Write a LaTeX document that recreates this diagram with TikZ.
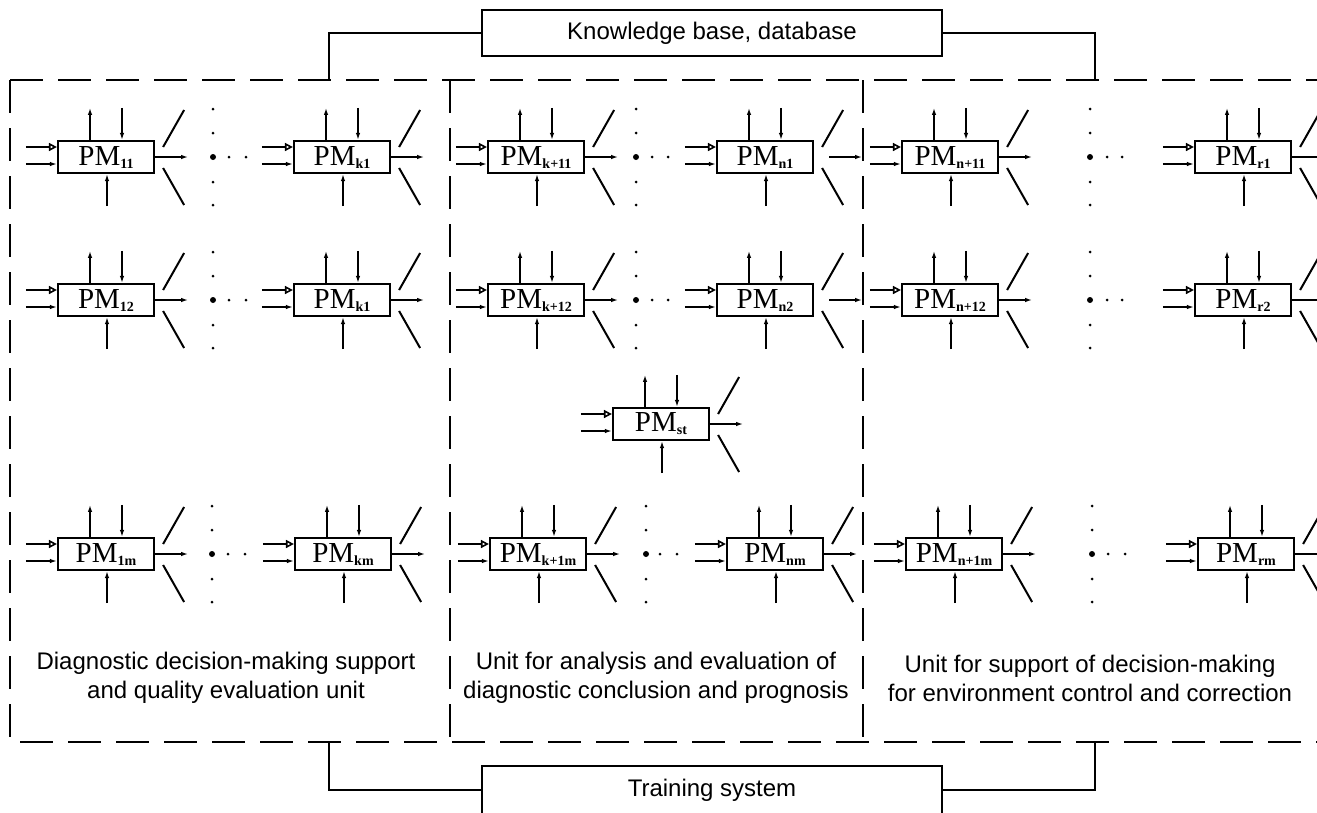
\documentclass[tikz,border=0pt]{standalone}
\usepackage{fontspec}
\setmainfont{Liberation Serif}
\newfontfamily\unitfont{Liberation Sans}
\usetikzlibrary{arrows.meta,calc,positioning}
\tikzset{
  pmbox/.style={draw, line width=2.2pt, fill=white, minimum width=96pt, minimum height=32pt, inner sep=0pt, font=\fontsize{29}{29}\selectfont},
  wire/.style={line width=2pt},
  inopen/.style={wire, -{Triangle[open, length=8pt, width=8pt, line width=1.6pt]}},
  tip/.style={wire, -{Latex[length=7pt, width=4.5pt]}},
  frame/.style={line width=2pt, dash pattern=on 33pt off 15pt},
  divider/.style={line width=1.6pt, dash pattern=on 33pt off 15pt},
  sysbox/.style={draw, line width=1.8pt, minimum width=460pt, inner sep=0pt, font=\unitfont\fontsize{24}{29}\selectfont},
  link/.style={line width=1.8pt},
  unitlabel/.style={align=center, font=\unitfont\fontsize{24}{29}\selectfont}
}
\newcommand{\pmsub}[1]{\raisebox{-3pt}{\fontsize{14}{14}\selectfont\bfseries #1}}
% name, x, y, index, gap before the output
\newcommand{\pmblock}[5]{%
  \node[pmbox] (#1) at (#2,#3) {PM\pmsub{#4}};
  \draw[inopen] ([shift={(-31,-10)}]#1.west) -- ([shift={(0,-10)}]#1.west);
  \draw[tip] ([shift={(-31,7)}]#1.west) -- ([shift={(0,7)}]#1.west);
  \draw[tip] ([shift={(-16,0)}]#1.north) -- ([shift={(-16,-32)}]#1.north);
  \draw[tip] ([shift={(16,-32)}]#1.north) -- ([shift={(16,0)}]#1.north);
  \draw[tip] ([shift={(1,32)}]#1.south) -- ([shift={(1,0)}]#1.south);
  \draw[tip] ([shift={(#5,0)}]#1.east) -- ([shift={(#5+33,0)}]#1.east);
  \draw[wire] ([shift={(8,-10)}]#1.east) -- ([shift={(29,-47)}]#1.east);
  \draw[wire] ([shift={(8,11)}]#1.east) -- ([shift={(29,48)}]#1.east);
}
% x, y, first and second dot to the right
\newcommand{\pmdots}[4]{%
  \foreach \dy in {-48,-24,25,48} \fill (#1,#2+\dy) circle (1.5pt);
  \fill (#1,#2) circle (3pt);
  \fill (#1+#3,#2) circle (1.5pt);
  \fill (#1+#4,#2) circle (1.5pt);
}

\begin{document}
\begin{tikzpicture}[x=1pt, y=-1pt]
  \useasboundingbox (0,0) rectangle (1317,812);
  \fill[white] (0,0) rectangle (1317,812);
  \clip (0,0) rectangle (1317,812);

  % dashed frame and unit borders
  \draw[frame] (10,80) -- (1317,80);
  \draw[frame] (10,80) -- (10,742) -- (1317,742);
  \draw[divider] (450,80) -- (450,742);
  \draw[divider] (863,80) -- (863,742);

  \node[sysbox, minimum height=46pt] (kb) at (712,33) {Knowledge base, database};
  \node[sysbox, minimum height=48pt] (ts) at (712,790) {Training system};
  \coordinate (kbL) at (329,80);
  \coordinate (kbR) at (1095,80);
  \coordinate (tsL) at (329,742);
  \coordinate (tsR) at (1095,742);
  \draw[link] (kb.west) -| (kbL);
  \draw[link] (kb.east) -| (kbR);
  \draw[link] (ts.west) -| (tsL);
  \draw[link] (ts.east) -| (tsR);

  % row 1
  \pmblock{pa1}{106}{157}{11}{0}
  \pmblock{pb1}{342}{157}{k1}{0}
  \pmblock{pc1}{536}{157}{k+11}{0}
  \pmblock{pd1}{765}{157}{n1}{15}
  \pmblock{pe1}{950}{157}{n+11}{0}
  \pmblock{pf1}{1243}{157}{r1}{0}
  \pmdots{213}{157}{16}{33}
  \pmdots{636}{157}{16}{32}
  \pmdots{1090}{157}{17}{32}

  % row 2
  \pmblock{pa2}{106}{300}{12}{0}
  \pmblock{pb2}{342}{300}{k1}{0}
  \pmblock{pc2}{536}{300}{k+12}{0}
  \pmblock{pd2}{765}{300}{n2}{15}
  \pmblock{pe2}{950}{300}{n+12}{0}
  \pmblock{pf2}{1243}{300}{r2}{0}
  \pmdots{213}{300}{16}{33}
  \pmdots{636}{300}{16}{32}
  \pmdots{1090}{300}{17}{32}

  \pmblock{pst}{661}{424}{st}{0}

  % row m
  \pmblock{pam}{106}{554}{1m}{0}
  \pmblock{pbm}{343}{554}{km}{0}
  \pmblock{pcm}{538}{554}{k+1m}{0}
  \pmblock{pdm}{775}{554}{nm}{0}
  \pmblock{pem}{954}{554}{n+1m}{0}
  \pmblock{pfm}{1246}{554}{rm}{0}
  \pmdots{212}{554}{16}{33}
  \pmdots{646}{554}{14}{31}
  \pmdots{1092}{554}{16}{33}

  \node[unitlabel] (ua) at (226,678) {Diagnostic decision-making support\\and quality evaluation unit};
  \node[unitlabel] (ub) at (656,678) {Unit for analysis and evaluation of\\diagnostic conclusion and prognosis};
  \node[unitlabel] (uc) at (1090,678) {Unit for support of decision-making\\for environment control and correction};
\end{tikzpicture}
\end{document}
